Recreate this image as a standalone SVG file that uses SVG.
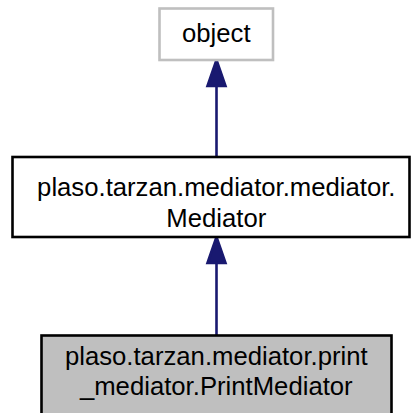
<svg xmlns="http://www.w3.org/2000/svg" width="411" height="413" viewBox="0 0 411 413">
<style>
  text { font-family: "Liberation Sans", Arial, Helvetica, sans-serif; font-size: 25.7px; fill: #000; text-anchor: middle; }
  .box { stroke-width: 2.6; }
  .edge { stroke: #191970; stroke-width: 2.6; fill: none; }
  .head { fill: #191970; stroke: #191970; stroke-width: 2.6; }
</style>
<rect width="411" height="413" fill="#ffffff"/>
<g id="connectors">
  <path class="edge" d="M216.5,86 L216.5,157"/>
  <polygon class="head" points="216.5,60 207.5,86 225.5,86"/>
  <path class="edge" d="M216.5,263 L216.5,335.5"/>
  <polygon class="head" points="216.5,237 207.5,263 225.5,263"/>
</g>
<g id="node-object">
  <rect class="box" x="159.5" y="8.5" width="113.5" height="51.5" fill="#ffffff" stroke="#bfbfbf"/>
  <text x="216.3" y="42">object</text>
</g>
<g id="node-mediator">
  <rect class="box" x="12.5" y="157" width="397" height="80" fill="#ffffff" stroke="#000000"/>
  <text x="216.3" y="196">plaso.tarzan.mediator.mediator.</text>
  <text x="216.3" y="227">Mediator</text>
</g>
<g id="node-printmediator">
  <rect class="box" x="41.5" y="335.5" width="350" height="80" fill="#bfbfbf" stroke="#000000"/>
  <text x="216.3" y="365">plaso.tarzan.mediator.print</text>
  <text x="216.3" y="395">_mediator.PrintMediator</text>
</g>
</svg>
